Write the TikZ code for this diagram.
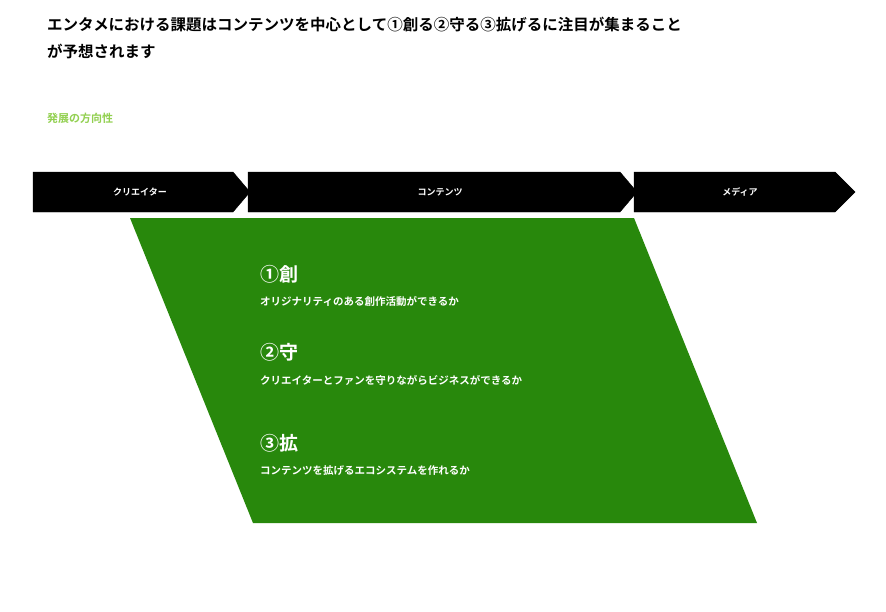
\documentclass[tikz,border=0pt]{standalone}
\usepackage{fontspec}
\newfontfamily\jp{Noto Sans CJK JP}[BoldFont={* Bold}]
\usetikzlibrary{positioning}
\definecolor{leaf}{HTML}{28880C}
\definecolor{lightleaf}{HTML}{92D050}
\tikzset{
  stage/.style={fill=black},
  stagelabel/.style={text=white, font=\jp\bfseries\fontsize{9}{11}\selectfont},
  pillar/.style={text=white, font=\jp\bfseries\fontsize{19}{22}\selectfont, anchor=west, inner sep=0pt},
  pillartext/.style={text=white, font=\jp\bfseries\fontsize{10.5}{13}\selectfont, anchor=west, inner sep=0pt}
}
\begin{document}
\begin{tikzpicture}[x=1pt, y=-1pt]
  \useasboundingbox[fill=white] (0,0) rectangle (886,611);
  % Title
  \node[anchor=north west, inner sep=0pt, align=left, font=\jp\bfseries\fontsize{15.5}{27}\selectfont] (title) at (47,17)
    {エンタメにおける課題はコンテンツを中心として①創る②守る③拡げるに注目が集まること\\が予想されます};
  \node[anchor=west, inner sep=0pt, text=lightleaf, font=\jp\bfseries\fontsize{11}{13}\selectfont] (trend) at (47,118) {発展の方向性};
  % Stages
  \draw[stage] (33,172) -- (233,172) -- (250,192) -- (233,212) -- (33,212) -- cycle;
  \draw[stage] (248,172) -- (620,172) -- (637,192) -- (620,212) -- (248,212) -- cycle;
  \draw[stage] (634,172) -- (835,172) -- (855,192) -- (835,212) -- (634,212) -- cycle;
  \node[stagelabel] (creator) at (140,192) {クリエイター};
  \node[stagelabel] (content) at (440,192) {コンテンツ};
  \node[stagelabel] (media) at (740,192) {メディア};
  % Focus area
  \fill[leaf] (130,218) -- (634,218) -- (757,523) -- (253,523) -- cycle;
  \node[pillar] (create) at (260,274) {①創};
  \node[pillartext] (createtext) at (260,301) {オリジナリティのある創作活動ができるか};
  \node[pillar] (protect) at (260,352) {②守};
  \node[pillartext] (protecttext) at (260,380) {クリエイターとファンを守りながらビジネスができるか};
  \node[pillar] (expand) at (260,443) {③拡};
  \node[pillartext] (expandtext) at (260,471) {コンテンツを拡げるエコシステムを作れるか};
\end{tikzpicture}
\end{document}
